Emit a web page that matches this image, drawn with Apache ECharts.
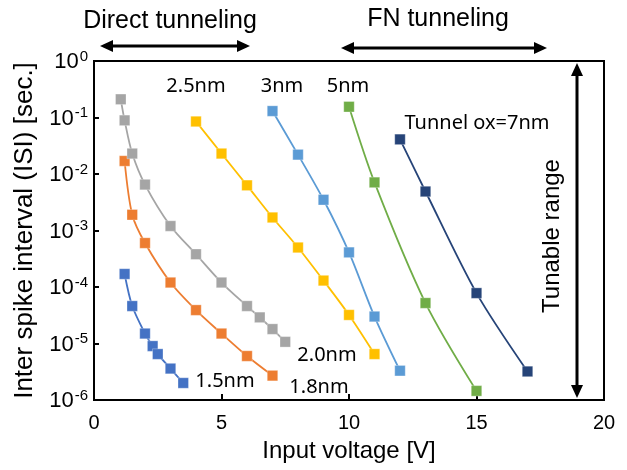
<!DOCTYPE html>
<html>
<head>
<meta charset="utf-8">
<script src="https://cdn.jsdelivr.net/npm/echarts@6/dist/echarts.min.js"></script>
<style>
  html, body { margin: 0; padding: 0; background: #fff; }
  #chart { width: 627px; height: 470px; }
</style>
</head>
<body>
<div id="chart"></div>
<script>
// ISI vs input voltage for each tunnel oxide thickness
const v15 = [1.2, 1.5, 2, 2.3, 2.5, 3, 3.5];
const isi15 = [1.7e-4, 4.6e-5, 1.5e-5, 9e-6, 6.5e-6, 3.6e-6, 2e-6];
const v18 = [1.2, 1.5, 2, 3, 4, 5, 6, 7];
const isi18 = [0.017, 0.0019, 6e-4, 1.2e-4, 3.9e-5, 1.5e-5, 6e-6, 2.7e-6];
const v20 = [1.05, 1.2, 1.5, 2, 3, 4, 5, 6, 6.5, 7, 7.5];
const isi20 = [0.21, 0.089, 0.023, 0.0065, 0.0012, 3.8e-4, 1.2e-4, 4.6e-5, 2.9e-5, 1.8e-5, 1.07e-5];
const v25 = [4, 5, 6, 7, 8, 9, 10, 11];
const isi25 = [0.085, 0.023, 0.0063, 0.0017, 5e-4, 1.3e-4, 3.2e-5, 6.5e-6];
const v30 = [7, 8, 9, 10, 11, 12];
const isi30 = [0.13, 0.022, 0.0035, 4.1e-4, 3e-5, 3.3e-6];
const v50 = [10, 11, 13, 15];
const isi50 = [0.155, 0.0071, 5.2e-5, 1.45e-6];
const v70 = [12, 13, 15, 17];
const isi70 = [0.041, 0.0049, 7.8e-5, 3.2e-6];

const seriesNames = ['1.5nm', '1.8nm', '2.0nm', '2.5nm', '3nm', '5nm', '7nm'];
const seriesColors = ['#4472C4', '#ED7D31', '#A5A5A5', '#FFC000', '#5B9BD5', '#70AD47', '#264478'];
const xs = [v15, v18, v20, v25, v30, v50, v70];
const ys = [isi15, isi18, isi20, isi25, isi30, isi50, isi70];

const pair = (a, b) => a.map((x, k) => [x, b[k]]);

let myChart = echarts.init(document.getElementById('chart'));

const labelFont = '"Noto Sans", sans-serif';
const arialFont = '"Liberation Sans", Arial, sans-serif';

// double headed arrow, horizontal or vertical
const arrow = (x1, y1, x2, y2) => {
  const horiz = y1 === y2;
  const L = 13, H = 6;
  let heads;
  if (horiz) {
    heads = [
      [[x1, y1], [x1 + L, y1 - H], [x1 + L, y1 + H]],
      [[x2, y2], [x2 - L, y2 - H], [x2 - L, y2 + H]]
    ];
  } else {
    heads = [
      [[x1, y1], [x1 - H, y1 + L], [x1 + H, y1 + L]],
      [[x2, y2], [x2 - H, y2 - L], [x2 + H, y2 - L]]
    ];
  }
  const out = [{
    type: 'line',
    shape: horiz ? { x1: x1 + 8, y1: y1, x2: x2 - 8, y2: y2 } : { x1: x1, y1: y1 + 8, x2: x2, y2: y2 - 8 },
    style: { stroke: '#000', lineWidth: 3 }
  }];
  heads.forEach(p => out.push({ type: 'polygon', shape: { points: p }, style: { fill: '#000' } }));
  return out;
};

const txt = (x, y, s, size, font, rot) => ({
  type: 'text',
  x: x, y: y,
  rotation: rot || 0,
  style: { text: s, fontSize: size, fontFamily: font, fill: '#000', align: 'center', verticalAlign: 'middle' }
});

let option = {
  backgroundColor: '#fff',
  animation: false,
  grid: {
    left: 94, right: 23, top: 61, bottom: 70,
    outerBoundsMode: 'none',
    containLabel: false,
    show: true, borderColor: '#000', borderWidth: 2
  },
  xAxis: {
    type: 'value',
    min: 0, max: 20, interval: 5,
    name: 'Input voltage [V]',
    nameLocation: 'middle',
    nameGap: 39,
    nameTextStyle: { fontSize: 24, fontFamily: arialFont, color: '#000' },
    axisLine: { show: true, lineStyle: { color: '#000', width: 2 } },
    axisTick: { show: true, inside: true, length: 6, lineStyle: { color: '#000', width: 2 } },
    axisLabel: { fontSize: 20, fontFamily: arialFont, color: '#000', margin: 13 },
    splitLine: { show: false }
  },
  yAxis: {
    type: 'log',
    logBase: 10,
    min: 1e-6, max: 1,
    name: 'Inter spike interval (ISI) [sec.]',
    nameLocation: 'middle',
    nameGap: 56,
    nameTextStyle: { fontSize: 26, fontFamily: arialFont, color: '#000' },
    axisLine: { show: true, lineStyle: { color: '#000', width: 2 } },
    axisTick: { show: true, inside: true, length: 5, lineStyle: { color: '#000', width: 2 } },
    axisLabel: {
      margin: 6,
      formatter: v => '{b|10}{s|' + Math.round(Math.log10(v)) + '}',
      rich: {
        b: { fontSize: 22, fontFamily: arialFont, color: '#000', lineHeight: 24, verticalAlign: 'bottom' },
        s: { fontSize: 15, fontFamily: arialFont, color: '#000', lineHeight: 24, verticalAlign: 'top', padding: [0, 0, 0, 1] }
      }
    },
    splitLine: { show: false },
    minorTick: { show: false }
  },
  series: seriesNames.map((n, i) => ({
    type: 'line',
    name: n,
    data: pair(xs[i], ys[i]),
    smooth: 0.3,
    symbol: 'rect',
    symbolSize: 10.5,
    lineStyle: { color: seriesColors[i], width: 1.8 },
    itemStyle: { color: seriesColors[i], borderColor: 'rgba(255,255,255,0.6)', borderWidth: 0.5 },
    z: 3
  })),
  graphic: [
    txt(170, 21, 'Direct tunneling', 25, arialFont),
    txt(438, 19, 'FN tunneling', 25, arialFont),
    ...arrow(100, 46, 250, 46),
    ...arrow(341, 48, 547, 48),
    ...arrow(577, 63, 577, 398),
    txt(552, 236, 'Tunable range', 24, arialFont, Math.PI / 2),
    txt(196, 86, '2.5nm', 20, labelFont),
    txt(282, 86, '3nm', 20, labelFont),
    txt(348, 86, '5nm', 20, labelFont),
    txt(477, 123, 'Tunnel ox=7nm', 20, labelFont),
    txt(327, 355, '2.0nm', 20, labelFont),
    txt(319, 387, '1.8nm', 20, labelFont),
    txt(225, 381, '1.5nm', 20, labelFont)
  ]
};
myChart.setOption(option);
</script>
</body>
</html>
